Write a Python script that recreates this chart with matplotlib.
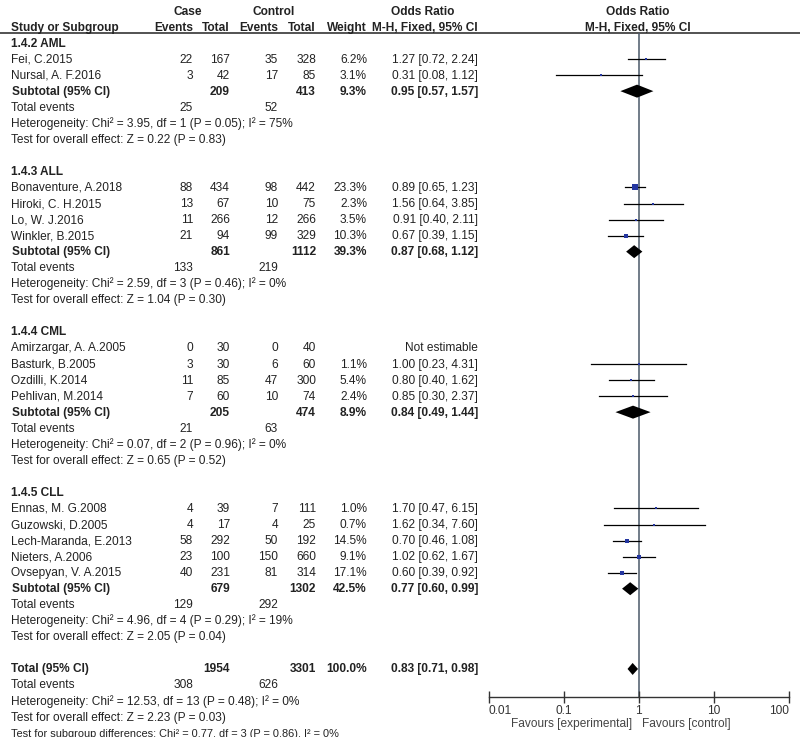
import numpy as np
import matplotlib
matplotlib.use('Agg')
import matplotlib.pyplot as plt
from matplotlib.ticker import NullLocator

plt.rcParams['font.family'] = ['Liberation Sans', 'DejaVu Sans']

groups = ['1.4.2 AML', '1.4.3 ALL', '1.4.4 CML', '1.4.5 CLL']

study_names = ['Fei, C.2015', 'Nursal, A. F.2016',
               'Bonaventure, A.2018', 'Hiroki, C. H.2015', 'Lo, W. J.2016', 'Winkler, B.2015',
               'Amirzargar, A. A.2005', 'Basturk, B.2005', 'Ozdilli, K.2014', 'Pehlivan, M.2014',
               'Ennas, M. G.2008', 'Guzowski, D.2005', 'Lech-Maranda, E.2013', 'Nieters, A.2006',
               'Ovsepyan, V. A.2015']
study_group = [0, 0, 1, 1, 1, 1, 2, 2, 2, 2, 3, 3, 3, 3, 3]
case_events = [22, 3, 88, 13, 11, 21, 0, 3, 11, 7, 4, 4, 58, 23, 40]
case_total = [167, 42, 434, 67, 266, 94, 30, 30, 85, 60, 39, 17, 292, 100, 231]
ctrl_events = [35, 17, 98, 10, 12, 99, 0, 6, 47, 10, 7, 4, 50, 150, 81]
ctrl_total = [328, 85, 442, 75, 266, 329, 40, 60, 300, 74, 111, 25, 192, 660, 314]
weight = [6.2, 3.1, 23.3, 2.3, 3.5, 10.3, None, 1.1, 5.4, 2.4, 1.0, 0.7, 14.5, 9.1, 17.1]
odds = [1.27, 0.31, 0.89, 1.56, 0.91, 0.67, None, 1.00, 0.80, 0.85, 1.70, 1.62, 0.70, 1.02, 0.60]
ci_lo = [0.72, 0.08, 0.65, 0.64, 0.40, 0.39, None, 0.23, 0.40, 0.30, 0.47, 0.34, 0.46, 0.62, 0.39]
ci_hi = [2.24, 1.12, 1.23, 3.85, 2.11, 1.15, None, 4.31, 1.62, 2.37, 6.15, 7.60, 1.08, 1.67, 0.92]

sub_case_total = [209, 861, 205, 679]
sub_ctrl_total = [413, 1112, 474, 1302]
sub_case_events = [25, 133, 21, 129]
sub_ctrl_events = [52, 219, 63, 292]
sub_weight = [9.3, 39.3, 8.9, 42.5]
sub_or = [0.95, 0.87, 0.84, 0.77]
sub_lo = [0.57, 0.68, 0.49, 0.60]
sub_hi = [1.57, 1.12, 1.44, 0.99]
het_chi2 = [3.95, 2.59, 0.07, 4.96]
het_df = [1, 3, 2, 4]
het_p = [0.05, 0.46, 0.96, 0.29]
het_i2 = [75, 0, 0, 19]
z_val = [0.22, 1.04, 0.65, 2.05]
z_p = [0.83, 0.30, 0.52, 0.04]

tot_case_total, tot_ctrl_total = 1954, 3301
tot_case_events, tot_ctrl_events = 308, 626
tot_or, tot_lo, tot_hi = 0.83, 0.71, 0.98
tot_het = (12.53, 13, 0.48, 0)
tot_z = (2.23, 0.03)
subgroup_diff = (0.77, 3, 0.86, 0)

axis_ticks = [0.01, 0.1, 1, 10, 100]
axis_labels = ['0.01', '0.1', '1', '10', '100']

# layout (pixel coordinates)
W, H = 800, 737
X_NAME, X_CE, X_CT, X_KE, X_KT, X_W, X_OR = 11, 193, 230, 278, 316, 367, 478
Y0, STEP = 43, 16.05
FS = 8.6
TXT = '#222222'
BLUE = '#2436a0'

fig = plt.figure(figsize=(W / 100, H / 100), dpi=100)
tax = fig.add_axes([0, 0, 1, 1])
tax.set_xlim(0, W)
tax.set_ylim(H, 0)
tax.axis('off')

fax = fig.add_axes([488.7 / W, (H - 697) / H, 300 / W, (697 - 33) / H])
fax.patch.set_alpha(0)
fax.set_xscale('log')
fax.set_xlim(0.01, 100)
fax.set_ylim(697, 33)


def txt(x, y, s, ha='left', bold=False, color=TXT, size=FS):
    tax.text(x, y + 3.5, s, ha=ha, va='baseline', fontsize=size, color=color,
             fontweight='bold' if bold else 'normal')


def ci_str(o, lo, hi):
    return f'{o:.2f} [{lo:.2f}, {hi:.2f}]'


def diamond(y, o, lo, hi, h=6.5):
    fax.fill([lo, o, hi, o], [y, y - h, y, y + h], color='black', lw=0)


# header
txt(188, 11, 'Case', ha='center', bold=True)
txt(274, 11, 'Control', ha='center', bold=True)
txt(423, 11, 'Odds Ratio', ha='center', bold=True)
txt(638, 11, 'Odds Ratio', ha='center', bold=True)
txt(X_NAME, 27, 'Study or Subgroup', bold=True)
txt(X_CE, 27, 'Events', ha='right', bold=True)
txt(X_CT, 27, 'Total', ha='right', bold=True)
txt(X_KE, 27, 'Events', ha='right', bold=True)
txt(X_KT, 27, 'Total', ha='right', bold=True)
txt(X_W, 27, 'Weight', ha='right', bold=True)
txt(X_OR, 27, 'M-H, Fixed, 95% CI', ha='right', bold=True)
txt(638, 27, 'M-H, Fixed, 95% CI', ha='center', bold=True)
tax.plot([0, W], [33, 33], color='#444444', lw=1.3)

r = 0
for g, gname in enumerate(groups):
    y = Y0 + STEP * r
    txt(X_NAME, y, gname, bold=True)
    r += 1
    for i in range(len(study_names)):
        if study_group[i] != g:
            continue
        y = Y0 + STEP * r
        txt(X_NAME, y, study_names[i])
        txt(X_CE, y, str(case_events[i]), ha='right')
        txt(X_CT, y, str(case_total[i]), ha='right')
        txt(X_KE, y, str(ctrl_events[i]), ha='right')
        txt(X_KT, y, str(ctrl_total[i]), ha='right')
        if odds[i] is None:
            txt(X_OR, y, 'Not estimable', ha='right')
        else:
            txt(X_W, y, f'{weight[i]:.1f}%', ha='right')
            txt(X_OR, y, ci_str(odds[i], ci_lo[i], ci_hi[i]), ha='right')
            fax.plot([ci_lo[i], ci_hi[i]], [y, y], color='black', lw=0.9)
            side = max(2.0, 1.2 * np.sqrt(weight[i]))
            fax.plot(odds[i], y, 's', ms=side * 0.72, color=BLUE, mec=BLUE, mew=0)
        r += 1
    y = Y0 + STEP * r
    txt(X_NAME + 1, y, 'Subtotal (95% CI)', bold=True)
    txt(X_CT, y, str(sub_case_total[g]), ha='right', bold=True)
    txt(X_KT, y, str(sub_ctrl_total[g]), ha='right', bold=True)
    txt(X_W, y, f'{sub_weight[g]:.1f}%', ha='right', bold=True)
    txt(X_OR, y, ci_str(sub_or[g], sub_lo[g], sub_hi[g]), ha='right', bold=True)
    diamond(y, sub_or[g], sub_lo[g], sub_hi[g])
    y = Y0 + STEP * (r + 1)
    txt(X_NAME, y, 'Total events')
    txt(X_CE, y, str(sub_case_events[g]), ha='right')
    txt(X_KE, y, str(sub_ctrl_events[g]), ha='right')
    txt(X_NAME, Y0 + STEP * (r + 2),
        f'Heterogeneity: Chi\u00b2 = {het_chi2[g]:.2f}, df = {het_df[g]} (P = {het_p[g]:.2f}); I\u00b2 = {het_i2[g]}%')
    txt(X_NAME, Y0 + STEP * (r + 3),
        f'Test for overall effect: Z = {z_val[g]:.2f} (P = {z_p[g]:.2f})')
    r += 5

y = Y0 + STEP * r
txt(X_NAME, y, 'Total (95% CI)', bold=True)
txt(X_CT, y, str(tot_case_total), ha='right', bold=True)
txt(X_KT, y, str(tot_ctrl_total), ha='right', bold=True)
txt(X_W, y, '100.0%', ha='right', bold=True)
txt(X_OR, y, ci_str(tot_or, tot_lo, tot_hi), ha='right', bold=True)
diamond(y, tot_or, tot_lo, tot_hi, h=6)
y = Y0 + STEP * (r + 1)
txt(X_NAME, y, 'Total events')
txt(X_CE, y, str(tot_case_events), ha='right')
txt(X_KE, y, str(tot_ctrl_events), ha='right')
txt(X_NAME, Y0 + STEP * (r + 2),
    f'Heterogeneity: Chi\u00b2 = {tot_het[0]:.2f}, df = {tot_het[1]} (P = {tot_het[2]:.2f}); I\u00b2 = {tot_het[3]}%')
txt(X_NAME, Y0 + STEP * (r + 3),
    f'Test for overall effect: Z = {tot_z[0]:.2f} (P = {tot_z[1]:.2f})')
txt(X_NAME, Y0 + STEP * (r + 4),
    f'Test for subgroup differences: Chi\u00b2 = {subgroup_diff[0]:.2f}, df = {subgroup_diff[1]} '
    f'(P = {subgroup_diff[2]:.2f}), I\u00b2 = {subgroup_diff[3]}%', size=FS * 0.92)

# forest axis
fax.axvline(1, color='#4a5868', lw=1.1, zorder=0)
for s in ['top', 'left', 'right']:
    fax.spines[s].set_visible(False)
fax.spines['bottom'].set_color('#333333')
fax.spines['bottom'].set_linewidth(1.0)
fax.set_yticks([])
fax.set_xticks(axis_ticks)
fax.set_xticklabels(axis_labels)
fax.xaxis.set_minor_locator(NullLocator())
fax.tick_params(axis='x', direction='inout', length=8, width=1, labelsize=FS,
                colors='#333333', pad=1.5)
tlabels = fax.get_xticklabels()
tlabels[0].set_ha('left')
tlabels[-1].set_ha('right')
txt(632, 723, 'Favours [experimental]', ha='right', color='#444444')
txt(642, 723, 'Favours [control]', color='#444444')

fig.savefig('out.png', dpi=100)
